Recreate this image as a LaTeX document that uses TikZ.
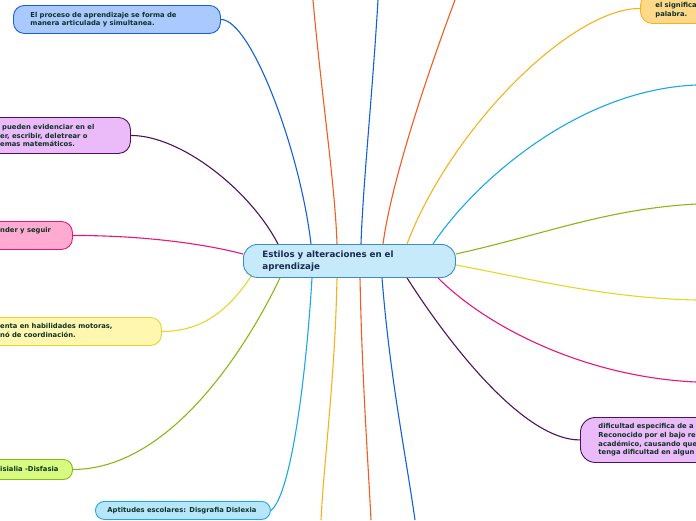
\documentclass[tikz,border=0pt]{standalone}
\usepackage{fontspec}
\setmainfont{DejaVu Sans}
\usetikzlibrary{calc,backgrounds}
\definecolor{txtc}{HTML}{0F3325}
\definecolor{ctxt}{HTML}{1A2A50}
\definecolor{cfill}{HTML}{C6EAFA}
\definecolor{cdraw}{HTML}{3A8EC8}
\definecolor{lblue}{HTML}{1560D8}
\definecolor{bfill}{HTML}{A9C9FF}
\definecolor{lpurple}{HTML}{4F1060}
\definecolor{pfill}{HTML}{EABAF9}
\definecolor{lmag}{HTML}{E8157A}
\definecolor{mfill}{HTML}{FFAAD0}
\definecolor{lyel}{HTML}{E8D42A}
\definecolor{yfill}{HTML}{FFF7B0}
\definecolor{lgreen}{HTML}{88B814}
\definecolor{gfill}{HTML}{D6FB80}
\definecolor{lcyan}{HTML}{1AA8E8}
\definecolor{cyfill}{HTML}{B7E6FB}
\definecolor{lorY}{HTML}{F6B21A}
\definecolor{ofill}{HTML}{FFD88A}
\definecolor{lorange}{HTML}{F25C22}
\begin{document}
\begin{tikzpicture}[x=1pt,y=-1pt,
  box/.style={draw, line width=0.9pt, rounded corners=#1, inner ysep=0pt, anchor=north west},
  btxt/.style={font=\bfseries\fontsize{6.8}{8.6}\selectfont, text=txtc, align=left},
  ltxt/.style={btxt, inner sep=0pt, anchor=west},
  conn/.style={line width=1.1pt}]
\useasboundingbox (0,0) rectangle (696,520);
\clip (0,0) rectangle (696,520);
% boxes
\node[box=14pt, fill=cfill, draw=cdraw, minimum height=33pt, inner xsep=19pt, text width=174pt,
  font=\bfseries\fontsize{8.7}{12}\selectfont, text=ctxt, align=left] (c) at (243,244)
  {Estilos y alteraciones en el\\aprendizaje};
\node[box=11pt, fill=bfill, draw=lblue, minimum height=28pt, inner xsep=17pt, text width=173pt, btxt] (b1) at (13,5)
  {El proceso de aprendizaje se forma de\\manera articulada y simultanea.};
\node[box=12pt, fill=pfill, draw=lpurple, minimum width=280pt, minimum height=36pt] (b2) at (-150,117) {};
\node[ltxt] (t2) at (0,135.5) {\hspace{2pt}pueden evidenciar en el\\er, escribir, deletrear o\\emas matemáticos.};
\node[box=11pt, fill=mfill, draw=lmag, minimum width=222pt, minimum height=28pt] (b3) at (-150,221) {};
\node[ltxt] (t3) at (0,230.5) {nder y seguir};
\node[box=11pt, fill=yfill, draw=lyel, minimum width=311pt, minimum height=28pt] (b4) at (-150,317) {};
\node[ltxt] (t4) at (0,330.5) {enta en habilidades motoras,\\nó de coordinación.};
\node[box=9pt, fill=gfill, draw=lgreen, minimum width=222pt, minimum height=20pt] (b5) at (-150,459) {};
\node[ltxt] (t5) at (0,469) {isialia -Disfasia};
\node[box=9pt, fill=cyfill, draw=lcyan, minimum height=18pt, inner xsep=12pt, text width=151pt, btxt] (b6) at (95,501)
  {Aptitudes escolares: Disgrafia Dislexia};
\node[box=12pt, fill=ofill, draw=lorY, minimum height=30pt, inner xsep=15pt, text width=100pt, btxt] (b7) at (640,-7)
  {\\el significa\\palabra.};
\node[box=15pt, fill=pfill, draw=lpurple, minimum height=45pt, inner xsep=18pt, text width=130pt, btxt] (b8) at (580,417)
  {dificultad especifica de a\\Reconocido por el bajo re\\académico, causando que\\tenga dificultad en algun};
% free ends
\coordinate (o1) at (313,0);
\coordinate (o2) at (378,0);
\coordinate (o3) at (455,0);
\coordinate (r1) at (696,85);
\coordinate (r2) at (696,204);
\coordinate (r3) at (696,300);
\coordinate (r4) at (696,382);
\coordinate (d1) at (415,520);
\coordinate (d2) at (371,520);
\coordinate (d3) at (321,520);
% connectors (behind boxes)
\begin{scope}[on background layer]
\draw[conn, lblue] (b1.east) .. controls +(30,0) and +(-11,-94) .. ($(c.north west)+(68,0)$);
\draw[conn, lpurple] (b2.east) .. controls +(50,0) and +(-28,-54) .. ($(c.north west)+(35,0)$);
\draw[conn, lmag] (b3.east) .. controls +(80,0) and +(-30,-8) .. ($(c.north west)+(0,10)$);
\draw[conn, lyel] (b4.east) .. controls +(45,0) and +(-20,30) .. ($(c.south west)+(9,-3)$);
\draw[conn, lgreen] (b5.east) .. controls +(100,0) and +(-30,63) .. ($(c.south west)+(37,0)$);
\draw[conn, lcyan] (b6.east) .. controls +(20,-15) and +(-6,100) .. ($(c.south west)+(69,0)$);
\draw[conn, lorange] (o1) .. controls +(9,100) and +(-2,-60) .. ($(c.north west)+(94,0)$);
\draw[conn, lblue] (o2) .. controls +(-6,100) and +(2,-60) .. ($(c.north west)+(118,0)$);
\draw[conn, lorange] (o3) .. controls +(-30,80) and +(8,-60) .. ($(c.north west)+(140,0)$);
\draw[conn, lorY] (b7.west) .. controls +(-70,0) and +(43,-114) .. ($(c.north west)+(164,0)$);
\draw[conn, lcyan] (r1) .. controls +(-120,5) and +(40,-60) .. ($(c.north west)+(190,0)$);
\draw[conn, lgreen] (r2) .. controls +(-90,5) and +(90,-20) .. ($(c.north east)+(0,10)$);
\draw[conn, lyel] (r3) .. controls +(-90,-2) and +(80,15) .. ($(c.north east)+(0,21)$);
\draw[conn, lmag] (r4) .. controls +(-110,-5) and +(50,50) .. ($(c.south west)+(195,0)$);
\draw[conn, lpurple] (b8.west) .. controls +(-60,0) and +(35,55) .. ($(c.south west)+(164,0)$);
\draw[conn, lblue] ($(c.south west)+(139,0)$) .. controls +(8,100) and +(-10,-70) .. (d1);
\draw[conn, lorange] ($(c.south west)+(117,0)$) .. controls +(2,100) and +(-3,-60) .. (d2);
\draw[conn, lorY] ($(c.south west)+(94,0)$) .. controls +(-2,100) and +(3,-60) .. (d3);
\end{scope}
\end{tikzpicture}
\end{document}
